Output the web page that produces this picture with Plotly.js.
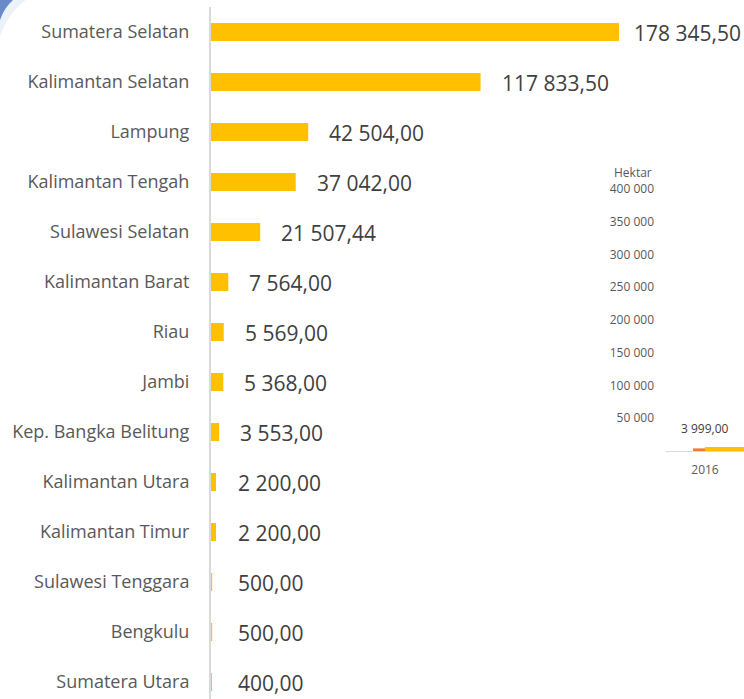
<!DOCTYPE html>
<html>
<head>
<meta charset="utf-8">
<script src="https://cdn.plot.ly/plotly-3.0.1.min.js"></script>
<style>html,body{margin:0;padding:0;background:#fff;}#chart{width:744px;height:699px;}</style>
</head>
<body>
<div id="chart"></div>
<script>
// ---- data ----
const provinces = ["Sumatera Selatan","Kalimantan Selatan","Lampung","Kalimantan Tengah","Sulawesi Selatan","Kalimantan Barat","Riau","Jambi","Kep. Bangka Belitung","Kalimantan Utara","Kalimantan Timur","Sulawesi Tenggara","Bengkulu","Sumatera Utara"];
const areaHa = [178345.50,117833.50,42504.00,37042.00,21507.44,7564.00,5569.00,5368.00,3553.00,2200.00,2200.00,500.00,500.00,400.00];
const insetYears = ["2016"];
const insetOrange = [3999.00];
const insetYellow = [6000];
const insetTicks = [50000,100000,150000,200000,250000,300000,350000,400000];
const insetAxisTitle = "Hektar";

function fmt(v){
  const parts = v.toFixed(2).split(".");
  const intPart = parts[0].replace(/\B(?=(\d{3})+(?!\d))/g, " ");
  return intPart + "," + parts[1];
}

const W = 744, H = 699;
const font = "'Open Sans', sans-serif";
const xMax = 533 * 178345.5 / 408;
const pxPerUnit = 533 / xMax;

const traces = [
  {
    type: "bar", orientation: "h",
    x: areaHa, y: provinces,
    marker: {color: "#FFC000"},
    hoverinfo: "skip",
    xaxis: "x", yaxis: "y"
  },
  {
    type: "bar", x: insetYears, y: insetOrange,
    marker: {color: "#ED7D31"},
    width: 12/78, offset: -12/78,
    xaxis: "x2", yaxis: "y2", hoverinfo: "skip"
  },
  {
    type: "bar", x: insetYears, y: insetYellow,
    marker: {color: "#FFC000"},
    width: 0.6, offset: 0,
    xaxis: "x2", yaxis: "y2", hoverinfo: "skip"
  }
];

const annotations = areaHa.map((v, i) => {
  const txt = fmt(v);
  const estWidth = txt.length * 11;
  const end = 211 + v * pxPerUnit;
  let shift = Math.max(19, 236 - end);
  if (end + shift + estWidth > W - 2) shift = Math.max(10, W - 2 - estWidth - end);
  return {
    x: v, y: provinces[i], xref: "x", yref: "y",
    text: txt, showarrow: false, xanchor: "left", yanchor: "middle",
    xshift: shift, yshift: -1, font: {family: font, size: 21, color: "#404040"}
  };
});
annotations.push({
  x: 0, y: insetOrange[0], xref: "x2", yref: "y2",
  text: fmt(insetOrange[0]), showarrow: false, xanchor: "center", yanchor: "bottom",
  yshift: 9, font: {family: font, size: 12, color: "#404040"}
});
annotations.push({
  x: 654/W, y: 1 - 172/H, xref: "paper", yref: "paper",
  text: insetAxisTitle, showarrow: false, xanchor: "right", yanchor: "middle",
  font: {family: font, size: 12, color: "#595959"}
});

const layout = {
  width: W, height: H,
  margin: {l: 0, r: 0, t: 0, b: 0},
  paper_bgcolor: "#ffffff", plot_bgcolor: "rgba(0,0,0,0)",
  showlegend: false,
  separators: ", ",
  bargap: 0.64,
  xaxis: {
    domain: [211/W, 1], range: [0, xMax],
    visible: false, fixedrange: true
  },
  yaxis: {
    type: "category", categoryorder: "array", categoryarray: provinces,
    domain: [0, 1 - 7/H], range: [13.34, -0.5],
    showline: true, linecolor: "#d9d9d9", linewidth: 2,
    showgrid: false, zeroline: false,
    ticks: "outside", ticklen: 16, tickcolor: "rgba(0,0,0,0)",
    tickfont: {family: font, size: 18, color: "#595959"},
    fixedrange: true
  },
  xaxis2: {
    domain: [666/W, 1], range: [-0.5, 0.5], type: "category",
    anchor: "y2", showline: true, linecolor: "#d9d9d9", linewidth: 1,
    showgrid: false, zeroline: false,
    ticks: "outside", ticklen: 8, tickcolor: "rgba(0,0,0,0)",
    tickfont: {family: font, size: 12, color: "#595959"}
  },
  yaxis2: {
    domain: [1 - 451/H, 1 - 189/H], range: [0, 400000],
    anchor: "free", position: 654/W,
    showline: false, showgrid: false, zeroline: false,
    tickvals: insetTicks, tickformat: ",d", ticks: "",
    tickfont: {family: font, size: 12, color: "#595959"}
  },
  annotations: annotations,
  shapes: [
    {type: "path", xref: "paper", yref: "paper",
     path: `M 0 1 L ${26/W} 1 Q ${9/W} ${1-12/H} 0 ${1-36/H} Z`,
     fillcolor: "rgba(215,225,240,0.45)", line: {width: 0}, layer: "below"},
    {type: "path", xref: "paper", yref: "paper",
     path: `M 0 1 L ${13/W} 1 Q ${4/W} ${1-8/H} 0 ${1-20/H} Z`,
     fillcolor: "rgba(80,120,190,0.85)", line: {width: 0}, layer: "below"}
  ]
};

Plotly.newPlot("chart", traces, layout, {displayModeBar: false, staticPlot: true});
</script>
</body>
</html>
